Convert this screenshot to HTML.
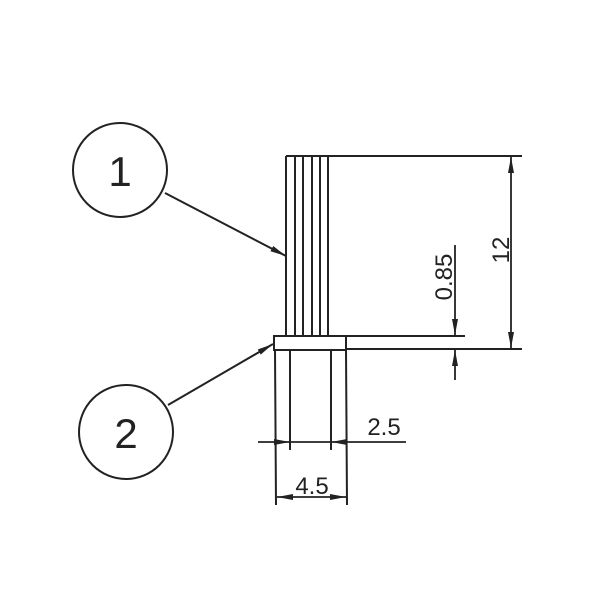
<!DOCTYPE html>
<html><head><style>body{margin:0;background:#fff}</style></head><body>
<svg width="600" height="600" xmlns="http://www.w3.org/2000/svg" font-family="Liberation Sans, sans-serif">
<defs><marker id="a" viewBox="0 0 16 6" refX="16" refY="3" markerWidth="16" markerHeight="6" markerUnits="userSpaceOnUse" orient="auto-start-reverse"><path d="M0,0 L16,3 L0,6z" fill="#222"/></marker></defs>
<g stroke="#222" stroke-width="2" fill="none">
<circle cx="120" cy="170" r="47"/>
<circle cx="126" cy="432" r="47"/>
<line x1="286" y1="156" x2="522" y2="156"/>
<line x1="286" y1="156" x2="286" y2="336"/>
<line x1="295" y1="156" x2="295" y2="336"/>
<line x1="303" y1="156" x2="303" y2="336"/>
<line x1="312" y1="156" x2="312" y2="336"/>
<line x1="320" y1="156" x2="320" y2="336"/>
<line x1="328" y1="156" x2="328" y2="336"/>
<rect x="274" y="336" width="72" height="14"/>
<line x1="346" y1="336" x2="465" y2="336"/>
<line x1="346" y1="349" x2="522" y2="349"/>
<line x1="275" y1="350" x2="276" y2="505"/>
<line x1="346" y1="350" x2="347" y2="505"/>
<line x1="290" y1="350" x2="290" y2="450"/>
<line x1="331" y1="350" x2="331" y2="450"/>
<line x1="511" y1="157" x2="511" y2="348" marker-end="url(#a)" marker-start="url(#a)" stroke-width="1.8"/>
<line x1="455" y1="245" x2="455" y2="335" marker-end="url(#a)" stroke-width="1.8"/>
<line x1="455" y1="380" x2="455" y2="350" marker-end="url(#a)" stroke-width="1.8"/>
<line x1="258" y1="442" x2="290" y2="442" marker-end="url(#a)" stroke-width="1.8"/>
<line x1="406" y1="442" x2="331" y2="442" marker-end="url(#a)" stroke-width="1.8"/>
<line x1="290" y1="442" x2="331" y2="442" stroke-width="1.8"/>
<line x1="277" y1="497" x2="346" y2="497" marker-end="url(#a)" marker-start="url(#a)" stroke-width="1.8"/>
<line x1="165" y1="193" x2="286" y2="256" marker-end="url(#a)" stroke-width="2"/>
<line x1="168" y1="405" x2="273" y2="344" marker-end="url(#a)" stroke-width="2"/>
</g>
<g fill="#222">
<text x="120" y="186" font-size="42" text-anchor="middle">1</text>
<text x="126" y="448" font-size="42" text-anchor="middle">2</text>
<text x="384" y="435" font-size="24" text-anchor="middle">2.5</text>
<text x="312" y="494" font-size="24" text-anchor="middle">4.5</text>
<text transform="translate(509,250) rotate(-90)" font-size="24" text-anchor="middle">12</text>
<text transform="translate(452,277) rotate(-90)" font-size="24" text-anchor="middle">0.85</text>
</g>
</svg>
</body></html>
